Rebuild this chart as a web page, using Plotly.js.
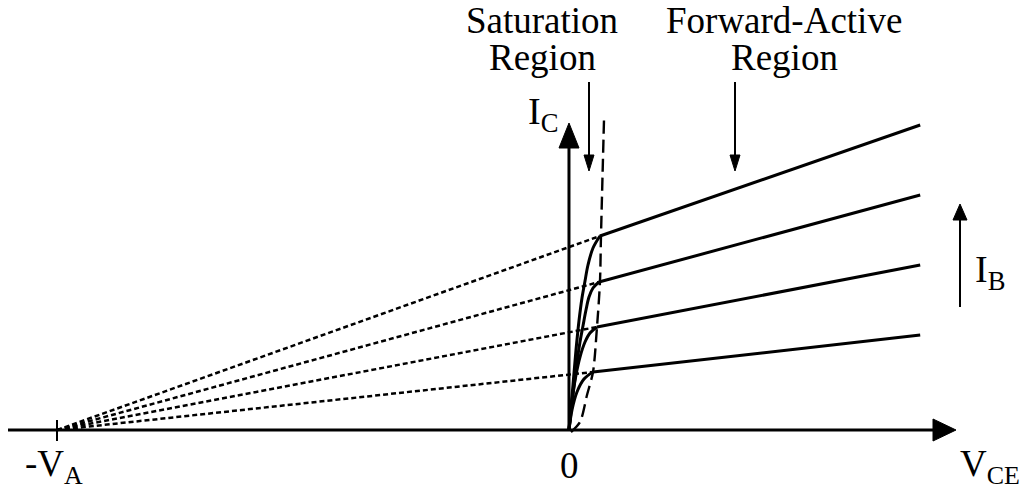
<!DOCTYPE html>
<html>
<head>
<meta charset="utf-8">
<script src="https://cdn.plot.ly/plotly-3.0.1.min.js"></script>
<style>
html,body{margin:0;padding:0;background:#fff;}
#chart{width:1022px;height:489px;}
#chart svg text{font-family:"Liberation Serif","DejaVu Serif",serif !important;}
</style>
</head>
<body>
<div id="chart"></div>
<script>
// ---- data (V_CE in volts, I_C in mA; illustrative BJT output characteristic) ----
const VA = 10;                       // Early voltage magnitude
const vEnd = 6.86;                   // right end of the characteristic curves
const kneeV = [0.605, 0.586, 0.547, 0.469];
const kneeI = [1.94, 1.48, 1.03, 0.58];
const endI  = [3.05, 2.35, 1.65, 0.95];
const satV = [
  [0, 0.078, 0.137, 0.195, 0.254, 0.313, 0.371, 0.469, 0.605],
  [0, 0.078, 0.156, 0.215, 0.273, 0.332, 0.391, 0.469, 0.586],
  [0, 0.059, 0.137, 0.215, 0.313, 0.410, 0.547],
  [0, 0.059, 0.156, 0.293, 0.469]
];
const satI = [
  [0, 0.45, 0.80, 1.09, 1.32, 1.49, 1.65, 1.82, 1.94],
  [0, 0.35, 0.68, 0.88, 1.04, 1.20, 1.33, 1.42, 1.48],
  [0, 0.30, 0.55, 0.73, 0.88, 0.97, 1.03],
  [0, 0.20, 0.38, 0.51, 0.58]
];
const edgeV = [0.039, 0.215, 0.352, 0.469, 0.547, 0.605, 0.625, 0.684];
const edgeI = [-0.02, 0.08, 0.35, 0.58, 1.03, 1.48, 1.94, 3.10];
const labelVA = "-V<sub>A</sub>";
const labelZero = "0";
const labelVCE = "V<sub>CE</sub>";
const labelIC = "I<sub>C</sub>";
const labelIB = "I<sub>B</sub>";
const regionSat = ["Saturation", "Region"];
const regionFA = ["Forward-Active", "Region"];

// ---- figure ----
const W = 1022, H = 489;
const px = x => x / W, py = y => 1 - y / H;
const FONT = "Liberation Serif, DejaVu Serif, serif";
const traces = [];

// dotted extrapolations to -VA
for (let k = 0; k < kneeV.length; k++) {
  traces.push({x: [-VA, kneeV[k]], y: [0, kneeI[k]], mode: "lines",
    line: {color: "#000", width: 2.5, dash: "5px,3px"}, hoverinfo: "skip"});
}
// saturation curves
for (let k = 0; k < satV.length; k++) {
  traces.push({x: satV[k], y: satI[k], mode: "lines",
    line: {color: "#000", width: 3, shape: "spline", smoothing: 1}, hoverinfo: "skip"});
}
// forward-active lines
for (let k = 0; k < kneeV.length; k++) {
  traces.push({x: [kneeV[k], vEnd], y: [kneeI[k], endI[k]], mode: "lines",
    line: {color: "#000", width: 3}, hoverinfo: "skip"});
}
// saturation edge (dashed)
traces.push({x: edgeV, y: edgeI, mode: "lines",
  line: {color: "#000", width: 2.4, dash: "13px,6px", shape: "spline", smoothing: 0.8}, hoverinfo: "skip"});

const shapes = [
  // V_CE axis
  {type: "line", xref: "paper", yref: "paper", x0: px(8), x1: px(940), y0: py(430), y1: py(430), line: {color: "#000", width: 3}},
  {type: "path", xref: "paper", yref: "paper", path: `M ${px(956)} ${py(430)} L ${px(933)} ${py(419)} L ${px(933)} ${py(441)} Z`, fillcolor: "#000", line: {color: "#000", width: 1}},
  // I_C axis
  {type: "line", xref: "x", yref: "paper", x0: 0, x1: 0, y0: py(430), y1: py(140), line: {color: "#000", width: 3}},
  {type: "path", xref: "paper", yref: "paper", path: `M ${px(569)} ${py(123)} L ${px(559)} ${py(148)} L ${px(579)} ${py(148)} Z`, fillcolor: "#000", line: {color: "#000", width: 1}},
  // -VA tick
  {type: "line", xref: "x", yref: "paper", x0: -VA, x1: -VA, y0: py(420), y1: py(441), line: {color: "#000", width: 2}},
  // region arrows
  {type: "line", xref: "paper", yref: "paper", x0: px(589), x1: px(589), y0: py(82), y1: py(158), line: {color: "#000", width: 2}},
  {type: "path", xref: "paper", yref: "paper", path: `M ${px(589)} ${py(171)} L ${px(584)} ${py(155)} L ${px(594)} ${py(155)} Z`, fillcolor: "#000", line: {color: "#000", width: 1}},
  {type: "line", xref: "paper", yref: "paper", x0: px(735), x1: px(735), y0: py(82), y1: py(158), line: {color: "#000", width: 2}},
  {type: "path", xref: "paper", yref: "paper", path: `M ${px(735)} ${py(171)} L ${px(730)} ${py(155)} L ${px(740)} ${py(155)} Z`, fillcolor: "#000", line: {color: "#000", width: 1}},
  // I_B arrow
  {type: "line", xref: "paper", yref: "paper", x0: px(960), x1: px(960), y0: py(307), y1: py(218), line: {color: "#000", width: 2}},
  {type: "path", xref: "paper", yref: "paper", path: `M ${px(960)} ${py(204)} L ${px(953)} ${py(220)} L ${px(967)} ${py(220)} Z`, fillcolor: "#000", line: {color: "#000", width: 1}}
];

const ann = (text, x, y, size) => ({text, xref: "paper", yref: "paper", x: px(x), y: py(y),
  xanchor: "center", yanchor: "middle", showarrow: false, font: {family: FONT, size, color: "#000"}});

const annotations = [
  ann(regionSat[0], 542, 20, 37),
  ann(regionSat[1], 542, 57, 37),
  ann(regionFA[0], 784, 20, 37),
  ann(regionFA[1], 784, 57, 37),
  ann(labelIC, 543, 114, 38),
  ann(labelIB, 990, 272, 38),
  ann(labelVA, 54, 466, 37),
  ann(labelZero, 569, 465, 37),
  ann(labelVCE, 990, 466, 37)
];

const layout = {
  width: W, height: H,
  margin: {l: 0, r: 0, t: 0, b: 0},
  paper_bgcolor: "#fff", plot_bgcolor: "#fff",
  showlegend: false,
  font: {family: FONT},
  xaxis: {range: [-11.113, 8.848], visible: false, fixedrange: true},
  yaxis: {range: [-0.59, 4.30], visible: false, fixedrange: true},
  shapes, annotations
};

Plotly.newPlot("chart", traces, layout, {staticPlot: true, displayModeBar: false});
</script>
</body>
</html>
